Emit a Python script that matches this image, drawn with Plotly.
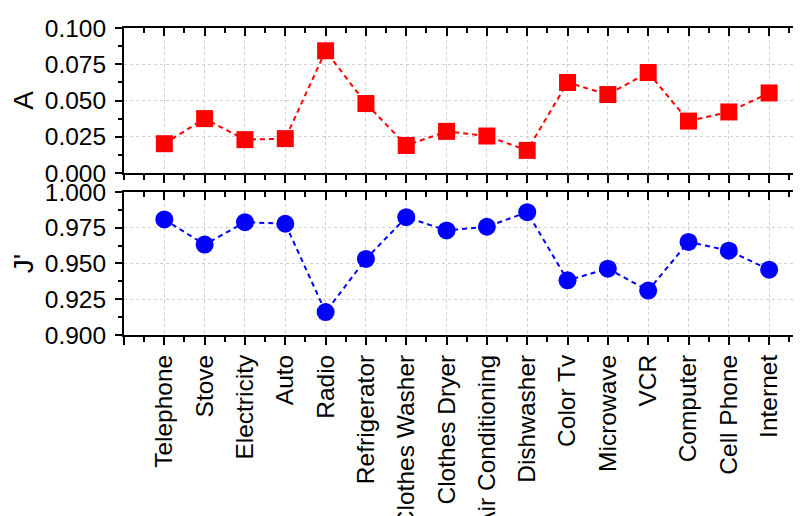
import plotly.graph_objects as go

categories = ["Telephone", "Stove", "Electricity", "Auto", "Radio", "Refrigerator",
              "Clothes Washer", "Clothes Dryer", "Air Conditioning", "Dishwasher",
              "Color Tv", "Microwave", "VCR", "Computer", "Cell Phone", "Internet"]
a_values = [0.0202, 0.0375, 0.0230, 0.0237, 0.0843, 0.0479,
            0.0190, 0.0287, 0.0255, 0.0156, 0.0624, 0.0541,
            0.0693, 0.0358, 0.0421, 0.0552]
j_values = [0.9808, 0.9632, 0.9789, 0.9778, 0.9160, 0.9532,
            0.9824, 0.9731, 0.9757, 0.9859, 0.9382, 0.9464,
            0.9311, 0.9651, 0.9590, 0.9457]
a_ticks = [0.0, 0.025, 0.05, 0.075, 0.1]
j_ticks = [0.9, 0.925, 0.95, 0.975, 1.0]

positions = list(range(1, len(categories) + 1))
tick_positions = [0] + positions
tick_text = [""] + categories

FONT = "Arial, Liberation Sans, sans-serif"
xrange = [0, 16.79]

fig = go.Figure()
fig.add_trace(go.Scatter(
    x=positions, y=a_values, xaxis="x2", yaxis="y2", mode="lines+markers",
    line=dict(color="#FF0000", width=2, dash="5px,4px"),
    marker=dict(symbol="square", size=17, color="#FF0000"),
    showlegend=False))
fig.add_trace(go.Scatter(
    x=positions, y=j_values, xaxis="x", yaxis="y", mode="lines+markers",
    line=dict(color="#0000FF", width=2, dash="5px,4px"),
    marker=dict(symbol="circle", size=18, color="#0000FF"),
    showlegend=False))
# dummy traces so the top-side tick axes are drawn
fig.add_trace(go.Scatter(x=[None], y=[None], xaxis="x3", yaxis="y2",
                         showlegend=False, hoverinfo="skip"))
fig.add_trace(go.Scatter(x=[None], y=[None], xaxis="x4", yaxis="y",
                         showlegend=False, hoverinfo="skip"))

def xax(anchor, side="bottom", ticks="outside", labels=False, grid=True, overlay=None):
    d = dict(
        anchor=anchor, side=side, range=xrange, tickmode="array",
        tickvals=tick_positions, ticktext=tick_text, automargin=False,
        ticks=ticks, ticklen=8, tickwidth=2, tickcolor="black",
        showline=True, linewidth=2, linecolor="black",
        showgrid=grid, gridcolor="#cfcfcf", griddash="dot", gridwidth=1,
        zeroline=False, showticklabels=labels, tickangle=-90,
        tickfont=dict(family=FONT, size=24.5, color="black"),
        minor=dict(tick0=0, dtick=0.5, ticks=ticks, ticklen=5, tickwidth=2,
                   tickcolor="black", showgrid=False),
        domain=[0, 1])
    if overlay:
        d["overlaying"] = overlay
    return d

def yax(domain, rng, ticks_list, title, anchor):
    return dict(
        domain=domain, anchor=anchor, range=rng, tickmode="array",
        tickvals=ticks_list, tickformat=".3f", automargin=False,
        ticks="outside", ticklen=7, tickwidth=2, tickcolor="black",
        showline=True, linewidth=2, linecolor="black",
        showgrid=True, gridcolor="#cfcfcf", griddash="dot", gridwidth=1,
        zeroline=False, ticklabelstandoff=4,
        tickfont=dict(family=FONT, size=24.5, color="black"),
        title=dict(text=title, font=dict(family=FONT, size=28, color="black"), standoff=11),
        minor=dict(dtick=(rng[1] - rng[0]) / 8, tick0=rng[0], ticks="outside",
                   ticklen=4, tickwidth=2, tickcolor="black", showgrid=False))

fig.update_layout(
    width=793, height=508,
    margin=dict(l=116, r=0, t=20, b=181),
    paper_bgcolor="white", plot_bgcolor="white",
    showlegend=False,
    xaxis=xax("y", labels=True),
    xaxis2=xax("y2"),
    xaxis3=xax("y2", side="top", ticks="inside", grid=False, overlay="x2"),
    xaxis4=xax("y", side="top", ticks="inside", grid=False, overlay="x"),
    yaxis=yax([0, 0.4658], [0.9, 1.0], j_ticks, "J'", "x"),
    yaxis2=yax([0.5277, 1], [0.0, 0.1], a_ticks, "A", "x2"),
)

fig.write_html("out.html")
